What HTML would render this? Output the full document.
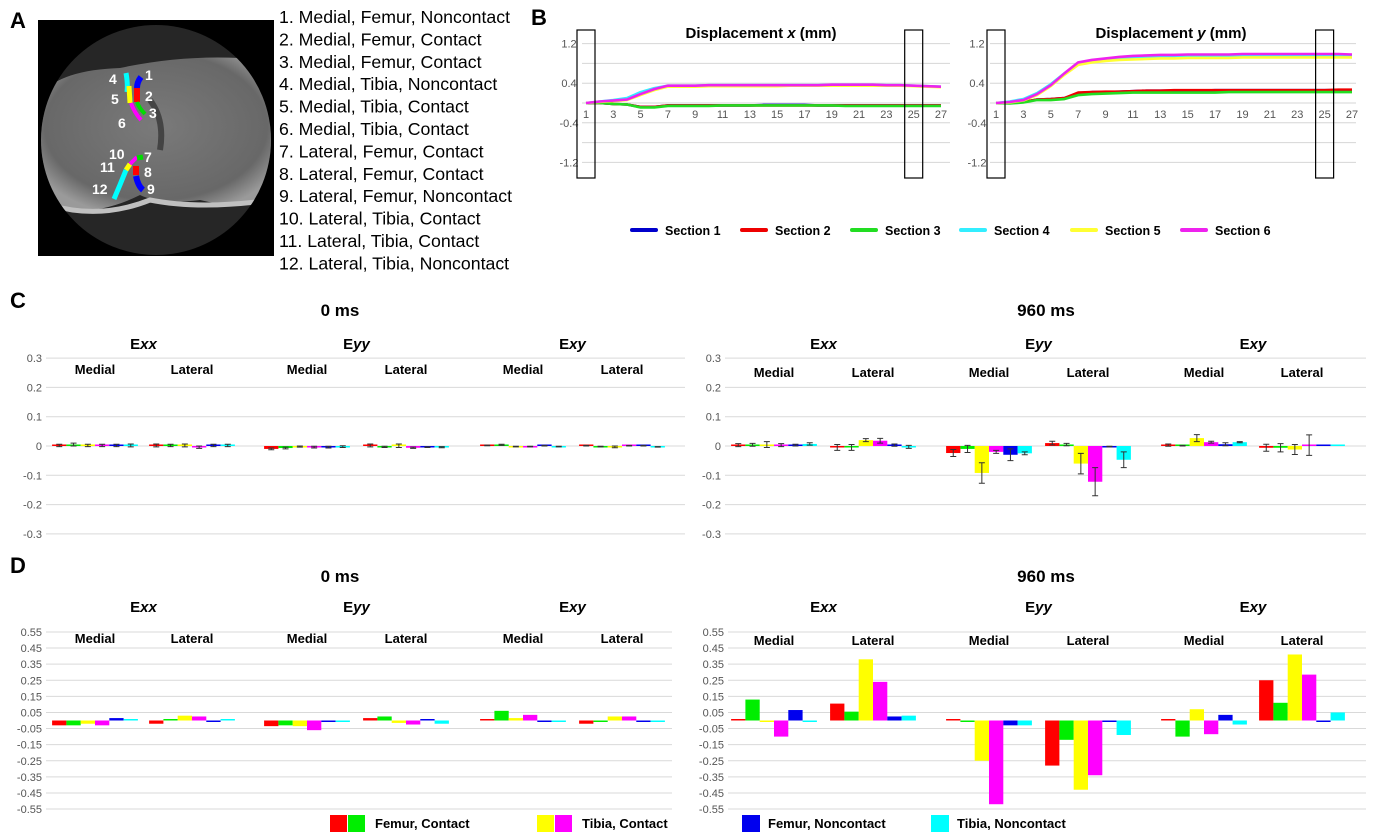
<!DOCTYPE html>
<html><head><meta charset="utf-8"><style>
body{margin:0;background:#fff}
svg{display:block;font-family:"Liberation Sans",Arial,sans-serif}
.ax{font-size:11px;fill:#555}
.ttl{font-size:17px;font-weight:bold}
.sub{font-size:13px;font-weight:bold}
.pl{font-size:22px;font-weight:bold}
.lst{font-size:17.7px}
</style></head><body>
<svg id="fig" width="1374" height="835" viewBox="0 0 1374 835">
<text class="pl" x="10" y="28">A</text>
<g>
<rect x="38" y="20" width="236" height="236" fill="#000"/>
<defs><radialGradient id="tg" cx="50%" cy="45%" r="60%"><stop offset="0" stop-color="#7a7a7a"/><stop offset="0.8" stop-color="#686868"/><stop offset="1" stop-color="#9a9a9a"/></radialGradient>
<clipPath id="cc"><circle cx="156" cy="140" r="115"/></clipPath></defs>
<circle cx="156" cy="140" r="115" fill="#262626"/>
<g clip-path="url(#cc)">
<path d="M40 95 Q60 70 120 68 Q180 55 240 58 Q268 65 272 100 L272 200 Q240 210 200 200 Q160 205 140 195 Q100 215 60 210 Q40 190 40 150 Z" fill="url(#tg)"/>
<path d="M50 205 Q100 220 150 200 Q200 210 272 200" stroke="#c0c0c0" stroke-width="5" fill="none"/>
<path d="M150 100 Q165 120 160 150" stroke="#444" stroke-width="6" fill="none"/>
</g>
<path d="M126 73 Q128 84 127 92" stroke="#00ffff" stroke-width="5" fill="none"/>
<path d="M129 86 L130 103" stroke="#ffff00" stroke-width="5" fill="none"/>
<path d="M131 103 Q134 112 141 120" stroke="#ff00ff" stroke-width="4" fill="none"/>
<path d="M141 77 Q137 82 137 88" stroke="#0000ff" stroke-width="6" fill="none"/>
<path d="M137 88 L137 102" stroke="#ff0000" stroke-width="6" fill="none"/>
<path d="M137 102 Q139 108 145 114" stroke="#00dd00" stroke-width="4" fill="none"/>
<path d="M114 199 Q120 185 126 170" stroke="#00ffff" stroke-width="5" fill="none"/>
<path d="M126 170 L130 164" stroke="#ffff00" stroke-width="5" fill="none"/>
<path d="M130 164 L137 157" stroke="#ff00ff" stroke-width="4" fill="none"/>
<path d="M137 158 L143 157" stroke="#00dd00" stroke-width="5" fill="none"/>
<path d="M136 166 L136 175" stroke="#ff0000" stroke-width="6" fill="none"/>
<path d="M136 176 Q138 186 143 190" stroke="#0000ff" stroke-width="6" fill="none"/>
<g fill="#fff" font-size="14" font-weight="bold">
<text x="109" y="84">4</text><text x="145" y="80">1</text><text x="111" y="104">5</text><text x="145" y="101">2</text><text x="149" y="118">3</text><text x="118" y="128">6</text>
<text x="109" y="159">10</text><text x="144" y="162">7</text><text x="100" y="172">11</text><text x="144" y="177">8</text><text x="92" y="194">12</text><text x="147" y="194">9</text></g>
</g>
<g class="lst">
<text x="279" y="23">1. Medial, Femur, Noncontact</text>
<text x="279" y="45.4">2. Medial, Femur, Contact</text>
<text x="279" y="67.8">3. Medial, Femur, Contact</text>
<text x="279" y="90.2">4. Medial, Tibia, Noncontact</text>
<text x="279" y="112.6">5. Medial, Tibia, Contact</text>
<text x="279" y="135">6. Medial, Tibia, Contact</text>
<text x="279" y="157.4">7. Lateral, Femur, Contact</text>
<text x="279" y="179.8">8. Lateral, Femur, Contact</text>
<text x="279" y="202.2">9. Lateral, Femur, Noncontact</text>
<text x="279" y="224.6">10. Lateral, Tibia, Contact</text>
<text x="279" y="247">11. Lateral, Tibia, Contact</text>
<text x="279" y="269.4">12. Lateral, Tibia, Noncontact</text>
</g>
<text class="pl" x="531" y="25">B</text>
<g id="pB"></g>
<text class="pl" x="10" y="308">C</text>
<text class="pl" x="10" y="573">D</text>
<text class="ttl" x="340" y="316" text-anchor="middle" font-size="19">0 ms</text>
<text class="ttl" x="1046" y="316" text-anchor="middle" font-size="19">960 ms</text>
<text class="ttl" x="340" y="582" text-anchor="middle" font-size="19">0 ms</text>
<text class="ttl" x="1046" y="582" text-anchor="middle" font-size="19">960 ms</text>
<g id="pCD"></g>
<g font-size="13" font-weight="bold">
<rect x="330" y="815" width="17" height="17" fill="#ff0000"/><rect x="348" y="815" width="17" height="17" fill="#00ee00"/><text x="375" y="828">Femur, Contact</text>
<rect x="537" y="815" width="17" height="17" fill="#ffff00"/><rect x="555" y="815" width="17" height="17" fill="#ff00ff"/><text x="582" y="828">Tibia, Contact</text>
<rect x="742" y="815" width="18" height="17" fill="#0000ee"/><text x="768" y="828">Femur, Noncontact</text>
<rect x="931" y="815" width="18" height="17" fill="#00ffff"/><text x="957" y="828">Tibia, Noncontact</text>
</g>
</svg>
<script>
const NS="http://www.w3.org/2000/svg";
function mk(tag,at,parent,txt){const e=document.createElementNS(NS,tag);for(const k in at)e.setAttribute(k,at[k]);if(txt!==undefined)e.textContent=txt;parent.appendChild(e);return e;}

const frames=[1,2,3,4,5,6,7,8,9,10,11,12,13,14,15,16,17,18,19,20,21,22,23,24,25,26,27];
const xTickLabels=["1","3","5","7","9","11","13","15","17","19","21","23","25","27"];
const yTickValsB=[1.2,0.8,0.4,0,-0.4,-0.8,-1.2];
const yTickLabelsB=["1.2","","0.4","","-0.4","","-1.2"];
const sectionNames=["Section 1","Section 2","Section 3","Section 4","Section 5","Section 6"];
const dispX_s1=[0,0,-0.02,-0.03,-0.08,-0.08,-0.05,-0.05,-0.05,-0.05,-0.05,-0.05,-0.05,-0.04,-0.04,-0.04,-0.04,-0.05,-0.05,-0.05,-0.05,-0.05,-0.05,-0.05,-0.05,-0.05,-0.05];
const dispX_s2=[0,0,-0.02,-0.03,-0.08,-0.08,-0.05,-0.05,-0.05,-0.05,-0.05,-0.05,-0.05,-0.05,-0.05,-0.05,-0.05,-0.05,-0.05,-0.05,-0.05,-0.05,-0.05,-0.05,-0.05,-0.05,-0.05];
const dispX_s3=[0,0,-0.02,-0.03,-0.09,-0.09,-0.06,-0.06,-0.06,-0.06,-0.05,-0.05,-0.05,-0.05,-0.05,-0.05,-0.05,-0.05,-0.05,-0.06,-0.06,-0.06,-0.06,-0.06,-0.06,-0.06,-0.06];
const dispX_s4=[0,0.03,0.06,0.1,0.22,0.3,0.35,0.35,0.35,0.36,0.36,0.36,0.36,0.36,0.36,0.36,0.36,0.36,0.37,0.37,0.37,0.37,0.36,0.36,0.35,0.34,0.33];
const dispX_s5=[0,0.02,0.04,0.06,0.16,0.26,0.33,0.33,0.33,0.34,0.34,0.34,0.34,0.34,0.34,0.35,0.35,0.35,0.35,0.35,0.35,0.35,0.35,0.35,0.34,0.33,0.32];
const dispX_s6=[0,0.03,0.05,0.07,0.18,0.28,0.35,0.35,0.35,0.36,0.36,0.36,0.36,0.36,0.36,0.36,0.36,0.36,0.37,0.37,0.37,0.37,0.36,0.36,0.35,0.34,0.33];
const dispY_s1=[0,0,0.02,0.07,0.08,0.1,0.2,0.22,0.22,0.23,0.24,0.25,0.25,0.25,0.25,0.25,0.26,0.26,0.26,0.26,0.26,0.26,0.26,0.26,0.26,0.26,0.26];
const dispY_s2=[0,0,0.02,0.07,0.08,0.1,0.21,0.22,0.23,0.23,0.24,0.25,0.25,0.26,0.26,0.26,0.26,0.26,0.26,0.26,0.26,0.26,0.26,0.26,0.26,0.27,0.27];
const dispY_s3=[0,-0.01,0.01,0.06,0.06,0.08,0.16,0.18,0.19,0.2,0.21,0.21,0.21,0.21,0.21,0.21,0.21,0.22,0.22,0.22,0.22,0.22,0.22,0.22,0.22,0.22,0.22];
const dispY_s4=[0,0.03,0.08,0.2,0.38,0.6,0.8,0.85,0.88,0.9,0.92,0.93,0.94,0.94,0.94,0.95,0.95,0.95,0.95,0.95,0.95,0.95,0.95,0.95,0.95,0.95,0.95];
const dispY_s5=[0,0.01,0.05,0.16,0.34,0.57,0.77,0.82,0.85,0.87,0.88,0.89,0.9,0.9,0.91,0.91,0.91,0.91,0.92,0.92,0.92,0.92,0.92,0.92,0.92,0.92,0.92];
const dispY_s6=[0,0.02,0.06,0.18,0.36,0.6,0.82,0.87,0.9,0.93,0.95,0.96,0.97,0.97,0.98,0.98,0.98,0.98,0.99,0.99,0.99,0.99,0.99,0.99,0.99,0.99,0.98];
const secColors=["#0000cc","#ee0000","#22dd22","#33eeff","#ffff33","#ee22ee"];

const groupNames=["Exx-Medial","Exx-Lateral","Eyy-Medial","Eyy-Lateral","Exy-Medial","Exy-Lateral"];
const barColors=["#ff0000","#00ee00","#ffff00","#ff00ff","#0000ee","#00ffff"];
const c0_values=[[0.002,0.005,0.002,0.002,0.002,0.002],[0.002,0.002,0.002,-0.004,0.002,0.002],[-0.01,-0.007,-0.002,-0.004,-0.004,-0.002],[0.002,-0.003,0.001,-0.006,-0.004,-0.004],[0.002,0.004,-0.002,-0.002,0.001,-0.002],[0.001,-0.002,-0.003,0.001,0.001,-0.003]];
const c0_errors=[[0.004,0.005,0.004,0.004,0.004,0.005],[0.005,0.004,0.005,0.004,0.004,0.004],[0.003,0.003,0.002,0.003,0.003,0.003],[0.005,0.002,0.006,0.002,0.001,0.002],[0.001,0.002,0.001,0.001,0.001,0.001],[0.001,0.001,0.003,0.001,0.001,0.001]];
const c960_values=[[0.003,0.004,0.005,0.003,0.003,0.007],[-0.005,-0.005,0.02,0.018,0.003,-0.003],[-0.024,-0.01,-0.092,-0.02,-0.03,-0.025],[0.01,0.005,-0.06,-0.122,-0.002,-0.047],[0.003,0.001,0.027,0.013,0.006,0.013],[-0.006,-0.006,-0.012,0.003,0.002,0.004]];
const c960_errors=[[0.005,0.005,0.01,0.005,0.003,0.004],[0.01,0.01,0.005,0.008,0.004,0.005],[0.012,0.012,0.035,0.005,0.02,0.005],[0.006,0.004,0.035,0.048,0.001,0.027],[0.004,0.001,0.012,0.003,0.005,0.002],[0.012,0.014,0.017,0.035,0,0]];
const d0_values=[[-0.03,-0.03,-0.02,-0.03,0.015,0.005],[-0.02,0,0.03,0.025,-0.005,0.005],[-0.035,-0.03,-0.035,-0.06,-0.005,-0.005],[0.015,0.025,-0.015,-0.025,0.005,-0.02],[0,0.06,0.015,0.035,-0.005,-0.005],[-0.02,-0.005,0.025,0.025,-0.005,-0.005]];
const d960_values=[[0,0.13,-0.005,-0.1,0.065,-0.005],[0.105,0.055,0.38,0.24,0.025,0.03],[0,-0.005,-0.25,-0.52,-0.03,-0.03],[-0.28,-0.12,-0.43,-0.34,-0.005,-0.09],[0,-0.1,0.07,-0.085,0.035,-0.025],[0.25,0.11,0.41,0.285,-0.005,0.05]];
const cTicks=[0.3,0.2,0.1,0,-0.1,-0.2,-0.3];
const cTickLabels=["0.3","0.2","0.1","0","-0.1","-0.2","-0.3"];
const dTicks=[0.55,0.45,0.35,0.25,0.15,0.05,-0.05,-0.15,-0.25,-0.35,-0.45,-0.55];
const dTickLabels=["0.55","0.45","0.35","0.25","0.15","0.05","-0.05","-0.15","-0.25","-0.35","-0.45","-0.55"];
const strainTitles=["xx","yy","xy"];
const siteNames=["Medial","Lateral","Medial","Lateral","Medial","Lateral"];

const pB=document.getElementById('pB');
function dispChart(x0,x1,gx0,gx1,title,tx,series,nm){
  const g=mk('g',{},pB);
  
  
  const yS=v=>103-v*49.5;
  const xS=i=>x0+(i-1)*(x1-x0)/26;
  yTickValsB.forEach((v,i)=>{
    const l=mk('line',{x1:gx0,x2:gx1,y1:yS(v),y2:yS(v),stroke:'#d6d6d6','stroke-width':1},g);
    
    
    if(yTickLabelsB[i]){const t=mk('text',{x:gx0-13,y:yS(v)+4,'text-anchor':'middle','class':'ax','font-size':'12.5'},g,yTickLabelsB[i]);
    
    }
  });
  xTickLabels.forEach(s=>{const t=mk('text',{x:xS(+s),y:118,'text-anchor':'middle','class':'ax','font-size':'12.5'},g,s);
    
    });
  series.forEach((arr,k)=>{
    const p=mk('polyline',{points:arr.map((v,i)=>xS(frames[i])+','+yS(v)).join(' '),fill:'none',stroke:secColors[k],'stroke-width':2.6,'stroke-linejoin':'round'},g);
    
    
  });
  const tt=mk('text',{x:tx,y:38,'text-anchor':'middle','font-size':'15','font-weight':'bold'},g);
  
  
  mk('tspan',{},tt,'Displacement ');mk('tspan',{'font-style':'italic'},tt,title);mk('tspan',{},tt,' (mm)');
  [1,25].forEach(f=>{const r=mk('rect',{x:xS(f)-9,y:30,width:18,height:148,fill:'none',stroke:'#000','stroke-width':1.2},g);
    
    });
}
dispChart(586,941,582,950,'x',761,[dispX_s1,dispX_s2,dispX_s3,dispX_s4,dispX_s5,dispX_s6],'displacement-x-chart');
dispChart(996,1352,990,1356,'y',1171,[dispY_s1,dispY_s2,dispY_s3,dispY_s4,dispY_s5,dispY_s6],'displacement-y-chart');
const lgX=[632,742,852,961,1072,1182];
sectionNames.forEach((s,i)=>{
  const g=mk('g',{},pB);
  
  
  mk('line',{x1:lgX[i],x2:lgX[i]+24,y1:230,y2:230,stroke:secColors[i],'stroke-width':4,'stroke-linecap':'round'},g);
  mk('text',{x:lgX[i]+33,y:235,'font-size':'12.5','font-weight':'bold'},g,s);
});

const pCD=document.getElementById('pCD');
function barChart(opt){
  const g=mk('g',{},pCD);
  
  
  const yS=v=>opt.zero-v*opt.pxPer;
  opt.ticks.forEach((v,i)=>{
    const l=mk('line',{x1:opt.gx0,x2:opt.gx1,y1:yS(v),y2:yS(v),stroke:'#d9d9d9','stroke-width':1},g);
    
    
    const t=mk('text',{x:opt.gx0-4,y:yS(v)+4,'text-anchor':'end','class':'ax'},g,opt.labels[i]);
    
    
  });
  const bw=14.3;
  opt.centers.forEach((c,gi)=>{
    opt.values[gi].forEach((v,bi)=>{
      const x=c-3*bw+bi*bw;
      const y0=yS(Math.max(v,0)),h=Math.max(Math.abs(v)*opt.pxPer,1.5);
      const r=mk('rect',{x:x,y:v>=0?y0-(h-Math.abs(v)*opt.pxPer):y0,width:bw,height:h,fill:barColors[bi]},g);
      
      
      if(opt.errors){
        const e=opt.errors[gi][bi];const cx=x+bw/2;
        if(e>0){
          const eb=mk('path',{d:`M${cx} ${yS(v+e)}V${yS(v-e)}M${cx-3} ${yS(v+e)}h6M${cx-3} ${yS(v-e)}h6`,stroke:'#333','stroke-width':1,fill:'none'},g);
          
          
        }
      }
    });
    const s=mk('text',{x:c,y:opt.siteY,'text-anchor':'middle','class':'sub'},g,siteNames[gi]);
    
    
  });
  strainTitles.forEach((st,i)=>{
    const cx=(opt.centers[2*i]+opt.centers[2*i+1])/2;
    const t=mk('text',{x:cx,y:opt.titleY,'text-anchor':'middle','font-size':'15','font-weight':'bold'},g);
    
    
    mk('tspan',{},t,'E');mk('tspan',{'font-style':'italic'},t,st);
  });
}
const leftCenters=[95,192,307,406,523,622];
const rightCenters=[774,873,989,1088,1204,1302];
barChart({name:'c-0ms-chart',zero:446,pxPer:293,gx0:46,gx1:685,ticks:cTicks,labels:cTickLabels,centers:leftCenters,values:c0_values,errors:c0_errors,titleY:349,siteY:374});
barChart({name:'c-960ms-chart',zero:446,pxPer:293,gx0:725,gx1:1366,ticks:cTicks,labels:cTickLabels,centers:rightCenters,values:c960_values,errors:c960_errors,titleY:349,siteY:377});
barChart({name:'d-0ms-chart',zero:720.5,pxPer:161,gx0:46,gx1:672,ticks:dTicks,labels:dTickLabels,centers:leftCenters,values:d0_values,titleY:612,siteY:643});
barChart({name:'d-960ms-chart',zero:720.5,pxPer:161,gx0:728,gx1:1366,ticks:dTicks,labels:dTickLabels,centers:rightCenters,values:d960_values,titleY:612,siteY:645});
</script>
</body></html>
